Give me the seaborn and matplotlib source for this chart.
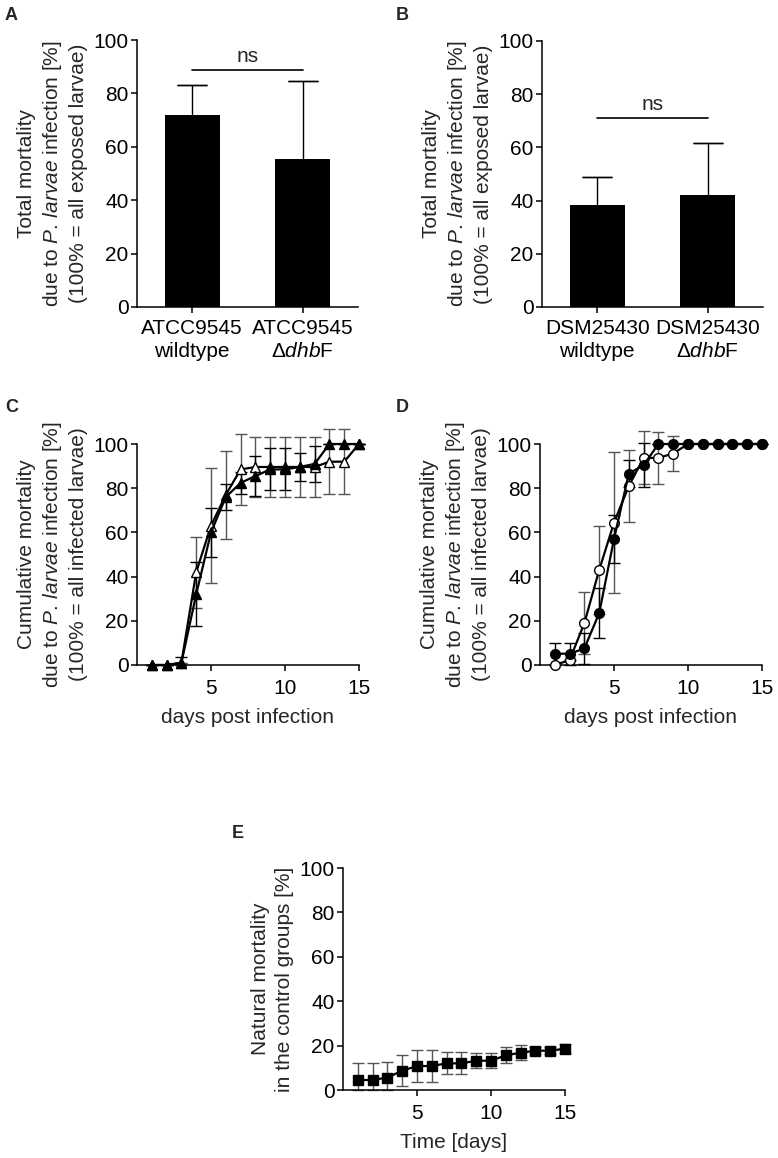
import seaborn as sns
import matplotlib.pyplot as plt
import matplotlib
import numpy as np
import pandas as pd
matplotlib.use('Agg')

# ---- data ----
bar_a_labels = ['ATCC9545\nwildtype', 'ATCC9545\nΔ$\\it{dhb}$F']
bar_a_vals = [72, 55.5]
bar_a_err = [11, 29]

bar_b_labels = ['DSM25430\nwildtype', 'DSM25430\nΔ$\\it{dhb}$F']
bar_b_vals = [38.5, 42]
bar_b_err = [10.5, 19.5]

days = list(range(1, 16))

c_open = [0, 0, 1, 42, 63, 77, 88.5, 89.6, 89.6, 89.6, 89.6, 89.6, 92, 92, 100]
c_open_err = [0, 0, 0, 16, 26, 20, 16, 13.5, 13.5, 13.5, 13.5, 13.5, 14.6, 14.6, 0]
c_filled = [0, 0, 1, 32, 60, 76, 82.4, 85.5, 88.5, 88.5, 89.6, 91, 100, 100, 100]
c_filled_err = [0, 0, 2.7, 14.5, 11, 6, 5, 9, 9.5, 9.5, 6.5, 8, 0, 0, 0]

d_open = [0, 2.2, 19, 43, 64.4, 81, 93.7, 93.7, 95.7, 100, 100, 100, 100, 100, 100]
d_open_err = [0, 0, 14, 20, 31.8, 16.5, 12, 11.7, 8, 0, 0, 0, 0, 0, 0]
d_filled = [5.1, 5.1, 7.5, 23.5, 57, 86.6, 90.4, 100, 100, 100, 100, 100, 100, 100, 100]
d_filled_err = [5, 5, 7, 11.3, 11, 6, 10, 0, 0, 0, 0, 0, 0, 0, 0]

e_vals = [4.5, 4.5, 5.6, 8.7, 10.8, 10.8, 12, 12, 13.2, 13.2, 15.6, 16.8, 17.7, 17.7, 18.6]
e_err = [7.6, 7.6, 7, 7.1, 7.2, 7.2, 5, 5, 3.3, 3.3, 3.6, 3.4, 1.5, 1.5, 2]

sns.set_theme(style='ticks')
plt.rcParams['font.family'] = ['Liberation Sans', 'DejaVu Sans']
plt.rcParams['mathtext.fontset'] = 'custom'
plt.rcParams['mathtext.rm'] = 'Liberation Sans'
plt.rcParams['mathtext.it'] = 'Liberation Sans:italic'
plt.rcParams['axes.linewidth'] = 1.1
plt.rcParams['xtick.major.width'] = 1.1
plt.rcParams['ytick.major.width'] = 1.1
plt.rcParams['xtick.major.size'] = 4
plt.rcParams['ytick.major.size'] = 4
plt.rcParams['xtick.major.pad'] = 6
plt.rcParams['ytick.major.pad'] = 2
plt.rcParams['xtick.color'] = 'black'
plt.rcParams['ytick.color'] = 'black'
plt.rcParams['axes.edgecolor'] = 'black'
FS = 15

W, H = 778, 1158
fig = plt.figure(figsize=(W / 100, H / 100), dpi=100)


def px_axes(left, top, right, bottom):
    return fig.add_axes([left / W, 1 - bottom / H, (right - left) / W, (bottom - top) / H])


label_ab = 'Total mortality\ndue to $\\it{P.\\,larvae}$ infection [%]\n(100% = all exposed larvae)'
label_cd = 'Cumulative mortality\ndue to $\\it{P.\\,larvae}$ infection [%]\n(100% = all infected larvae)'


def style_axes(ax):
    sns.despine(ax=ax)
    ax.tick_params(labelsize=FS, colors='black')
    ax.set_ylim(0, 100)
    ax.set_yticks([0, 20, 40, 60, 80, 100])


def bar_panel(ax, labels, vals, errs, ns_y):
    # upper error bar only (lower half hidden in the bar)
    ax.errorbar([0, 1], [v + e / 2 for v, e in zip(vals, errs)], yerr=[e / 2 for e in errs],
                fmt='none', ecolor='black', elinewidth=1, capsize=0, zorder=1)
    ax.errorbar([0, 1], [v + e for v, e in zip(vals, errs)], yerr=[0, 0],
                fmt='none', ecolor='black', elinewidth=1, capsize=11, capthick=1, zorder=1)
    sns.barplot(x=labels, y=vals, color='black', width=0.5, saturation=1,
                edgecolor='black', linewidth=0, ax=ax, zorder=2)
    style_axes(ax)
    ax.set_xlim(-0.5, 1.5)
    ax.set_xticks([0, 1])
    ax.set_xticklabels(labels, fontsize=FS, linespacing=1.3)
    ax.tick_params(axis='x', pad=4.5)
    ax.plot([0, 1], [ns_y, ns_y], color='black', lw=1.2, clip_on=False)
    ax.text(0.5, ns_y + 1.5, 'ns', ha='center', va='bottom', fontsize=FS)
    ax.set_ylabel(label_ab, fontsize=FS, linespacing=1.3, labelpad=4)
    ax.set_xlabel('')


def line_panel(ax, x, series, marker, ylabel, xlabel):
    for vals, errs, face, ecol in series:
        lower = [min(e, v) for v, e in zip(vals, errs)]  # bars stop at 0
        ax.errorbar(x, vals, yerr=[lower, errs], fmt='none', ecolor=ecol, elinewidth=1,
                    capsize=4, capthick=1, clip_on=False, zorder=1)
        sns.lineplot(x=x, y=vals, color='black', lw=1.6, marker=marker, markersize=7,
                     markerfacecolor=face, markeredgecolor='black', markeredgewidth=1,
                     clip_on=False, ax=ax, zorder=3)
    style_axes(ax)
    ax.set_xlim(0, 15)
    ax.set_xticks([5, 10, 15])
    ax.set_ylabel(ylabel, fontsize=FS, linespacing=1.3, labelpad=4)
    ax.set_xlabel(xlabel, fontsize=FS, labelpad=7)


# A
axA = px_axes(137, 40, 358, 307)
bar_panel(axA, bar_a_labels, bar_a_vals, bar_a_err, 88.8)
# B
axB = px_axes(542, 41, 763, 307)
bar_panel(axB, bar_b_labels, bar_b_vals, bar_b_err, 71)
# C
axC = px_axes(137, 444, 359, 665)
line_panel(axC, days, [(c_open, c_open_err, 'white', '#555555'),
                       (c_filled, c_filled_err, 'black', 'black')],
           '^', label_cd, 'days post infection')
# D
axD = px_axes(540, 444, 762, 665)
line_panel(axD, days, [(d_open, d_open_err, 'white', '#555555'),
                       (d_filled, d_filled_err, 'black', 'black')],
           'o', label_cd, 'days post infection')
# E
axE = px_axes(343, 868, 565, 1090)
line_panel(axE, days, [(e_vals, e_err, 'black', '#555555')],
           's', 'Natural mortality\nin the control groups [%]', 'Time [days]')

# panel letters
for letter, (px, py) in zip('ABCDE', [(5, 20), (396, 20), (5, 412), (396, 412), (232, 838)]):
    fig.text(px / W, 1 - py / H, letter, fontsize=13, fontweight='bold', ha='left', va='baseline')

plt.savefig('out.png', dpi=100)
plt.close()
